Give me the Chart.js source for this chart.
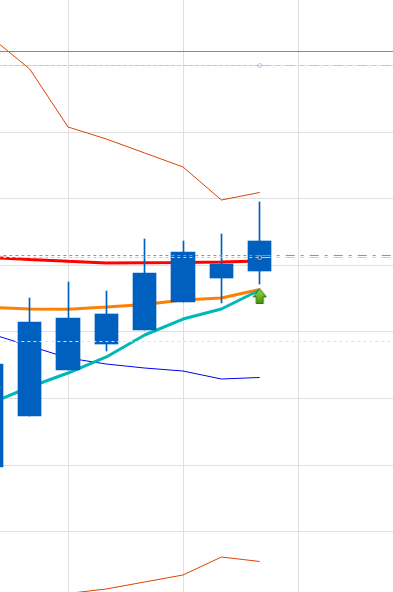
<!DOCTYPE html>
<html>
<head>
<meta charset="utf-8">
<style>html,body{margin:0;padding:0;background:#fff;overflow:hidden}canvas{display:block}</style>
<script src="https://cdn.jsdelivr.net/npm/chart.js@4/dist/chart.umd.min.js"></script>
</head>
<body>
<canvas id="c" width="393" height="592"></canvas>
<script>
const candleIndex = [1, 2, 3, 4, 5, 6, 7, 8];
const open  = [35.18, 41.49, 42.09, 42.70, 48.85, 52.01, 50.21, 53.66];
const close = [19.71, 27.37, 34.28, 38.19, 40.29, 44.50, 48.10, 49.15];
const high  = [35.18, 45.10, 47.50, 46.15, 53.96, 53.66, 54.71, 59.52];
const low   = [19.71, 27.37, 34.28, 37.14, 40.29, 44.50, 44.35, 47.20];

const upperBand = [84.23, 79.50, 70.79, 68.98, 66.88, 64.78, 59.82, 60.95];
const lowerBand = [null, null, 0.71, 1.39, 2.44, 3.49, 6.19, 5.52];
const blueLine  = [39.69, 37.89, 36.09, 35.18, 34.58, 34.13, 32.93, 33.16];
const tealLine  = [29.33, 31.73, 33.83, 36.24, 39.54, 41.94, 43.45, 46.30];
const orangeLine = [43.67, 43.45, 43.40, 43.75, 44.12, 44.80, 45.10, 46.38];
const redLine   = [51.18, 50.88, 50.61, 50.36, 50.40, 50.43, 50.51, 50.66];

const greenLevel = 82.13;
const lavenderLevel = 80.02;
const redLevel = 51.48;
const paleGreenLevel = 51.18;
const greyLevel = 38.56;
const signalIndex = 8;
const signalValue = 45.35;
const lastIndex = 8;
const farIndex = 12;

const BLUE = '#0060c0';
const pts = vals => candleIndex.map((x, k) => ({x, y: vals[k]})).filter(p => p.y !== null);
const line = (vals, color, width, order) => ({
  type: 'line', data: pts(vals), borderColor: color, borderWidth: width,
  pointRadius: 0, tension: 0, order, fill: false, borderJoinStyle: 'bevel'
});
const level = (y, color, order) => ([
  {type: 'line', data: [{x: 1, y}, {x: lastIndex, y}], borderColor: color, borderWidth: 1,
   borderDash: [3, 3], pointRadius: 0, order, fill: false},
  {type: 'line', data: [{x: lastIndex, y}, {x: farIndex, y}], borderColor: color, borderWidth: 1,
   borderDash: [9, 6, 3, 6], borderDashOffset: -2, pointRadius: 0, order, fill: false}
]);
const marker = (y, color) => ({
  type: 'line', data: [{x: lastIndex, y}], showLine: false, pointRadius: 2,
  pointBorderWidth: 1, pointBorderColor: color, pointBackgroundColor: 'rgba(0,0,0,0)', order: 1
});

function arrowImage() {
  const cv = document.createElement('canvas');
  cv.width = 15; cv.height = 16;
  const g = cv.getContext('2d');
  const grad = g.createLinearGradient(0, 0, 0, 16);
  grad.addColorStop(0, '#a6dc3c');
  grad.addColorStop(1, '#3f8f0a');
  g.beginPath();
  g.moveTo(7.5, 0.5); g.lineTo(14, 8.5); g.lineTo(11, 8.5); g.lineTo(11, 15.5);
  g.lineTo(4, 15.5); g.lineTo(4, 8.5); g.lineTo(1, 8.5); g.closePath();
  g.fillStyle = grad; g.fill();
  g.strokeStyle = '#2a6b05'; g.lineWidth = 1; g.stroke();
  return cv;
}

const snapBars = {
  id: 'snapBars',
  beforeDatasetsDraw(chart) {
    chart.data.datasets.forEach((d, i) => {
      if (d.type !== 'bar') return;
      chart.getDatasetMeta(i).data.forEach(el => {
        if (d.wick) {
          el.x = Math.floor(el.x) + 0.5;
        } else {
          const l = Math.round(el.x - el.width / 2), r = Math.round(el.x + el.width / 2);
          el.x = (l + r) / 2; el.width = r - l;
        }
        el.y = Math.round(el.y); el.base = Math.round(el.base);
      });
    });
  }
};

new Chart(document.getElementById('c'), {
  type: 'bar',
  data: {
    datasets: [
      line(orangeLine, '#ff8000', 3, 7),
      line(redLine, '#ff0000', 3, 7),
      line(tealLine, '#00b8b8', 3, 6),
      line(blueLine, '#0000f0', 1, 7),
      line(upperBand, '#dd4400', 1, 7),
      line(lowerBand, '#dd4400', 1, 7),
      {type: 'bar', wick: true, data: candleIndex.map((x, k) => ({x, y: [low[k], high[k]]})),
       backgroundColor: BLUE, barThickness: 1, grouped: false, order: 4},
      {type: 'bar', data: candleIndex.map((x, k) => ({x, y: [close[k], open[k]]})),
       backgroundColor: BLUE, barThickness: 23.33, grouped: false, order: 3},
      {type: 'line', data: [{x: 1, y: greenLevel}, {x: farIndex, y: greenLevel}],
       borderColor: '#00e800', borderWidth: 1, pointRadius: 0, order: 2, fill: false},
      ...level(lavenderLevel, '#d0b4e8', 2),
      {type: 'line', data: [{x: 1, y: greyLevel}, {x: farIndex, y: greyLevel}],
       borderColor: '#e2e2e2', borderWidth: 1, borderDash: [3, 3], pointRadius: 0, order: 2, fill: false},
      ...level(redLevel, '#f56a6a', 2),
      ...level(paleGreenLevel, '#b8dca0', 2),
      marker(lavenderLevel, '#d0b4e8'),
      marker(paleGreenLevel, '#f0a070'),
      {type: 'line', data: [{x: signalIndex, y: signalValue}], showLine: false,
       pointStyle: arrowImage(), pointRadius: 8, order: 0}
    ]
  },
  options: {
    responsive: false,
    animation: false,
    devicePixelRatio: 1,
    layout: {padding: 0, autoPadding: false},
    events: [],
    plugins: {legend: {display: false}, tooltip: {enabled: false}},
    scales: {
      x: {
        type: 'linear', min: 1.2252, max: 11.4774, offset: false,
        grid: {color: '#e0e0e0', lineWidth: 1, drawTicks: false, offset: false},
        border: {display: false},
        ticks: {display: false, stepSize: 3},
        afterBuildTicks: s => { s.ticks = [3, 6, 9].map(value => ({value})); }
      },
      y: {
        type: 'linear', min: 0.934, max: 89.864,
        grid: {color: '#e0e0e0', lineWidth: 1, drawTicks: false},
        border: {display: false},
        ticks: {display: false, stepSize: 10},
        afterBuildTicks: s => { s.ticks = [10, 20, 30, 40, 50, 60, 70, 80].map(value => ({value})); }
      }
    }
  },
  plugins: [snapBars]
});
</script>
</body>
</html>
